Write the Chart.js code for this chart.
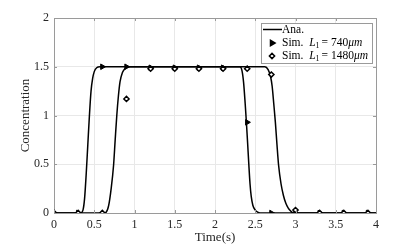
<!DOCTYPE html>
<html>
<head>
<meta charset="utf-8">
<script src="https://cdn.jsdelivr.net/npm/chart.js@4"></script>
<style>
  html, body { margin: 0; padding: 0; background: #fff; }
  #wrap { width: 415px; height: 247px; }
</style>
</head>
<body>
<div id="wrap"><canvas id="grafik"></canvas></div>
<script>
// analytical curves
const ana1T = [0, 0.33, 0.36, 0.38, 0.40, 0.42, 0.44, 0.46, 0.48, 0.50, 0.53, 0.57, 2.31, 2.335, 2.355, 2.375, 2.39, 2.405, 2.42, 2.435, 2.45, 2.47, 2.50, 2.53, 2.56, 4];
const ana1C = [0, 0, 0.03, 0.15, 0.4, 0.7, 1.0, 1.25, 1.38, 1.45, 1.49, 1.5, 1.5, 1.46, 1.34, 1.12, 0.93, 0.72, 0.5, 0.3, 0.17, 0.08, 0.03, 0.008, 0, 0];
const ana2T = [0, 0.62, 0.65, 0.68, 0.71, 0.74, 0.76, 0.78, 0.80, 0.82, 0.85, 0.88, 0.93, 2.62, 2.66, 2.69, 2.71, 2.73, 2.75, 2.77, 2.79, 2.82, 2.85, 2.88, 2.91, 2.94, 2.97, 4];
const ana2C = [0, 0, 0.01, 0.08, 0.25, 0.49, 0.75, 1.0, 1.2, 1.345, 1.44, 1.48, 1.5, 1.5, 1.47, 1.4, 1.3, 1.12, 0.93, 0.7, 0.49, 0.3, 0.18, 0.1, 0.05, 0.02, 0, 0];

// simulation samples
const simTime = [0, 0.3, 0.6, 0.9, 1.2, 1.5, 1.8, 2.1, 2.4, 2.7, 3.0, 3.3, 3.6, 3.9];
const sim740 = [0, 0, 1.5, 1.5, 1.49, 1.49, 1.49, 1.49, 0.93, 0, 0, 0, 0, 0];
const sim1480 = [0, 0, 0, 1.17, 1.48, 1.48, 1.48, 1.48, 1.48, 1.42, 0.03, 0, 0, 0];

const xTicks = [0, 0.5, 1, 1.5, 2, 2.5, 3, 3.5, 4];
const yTicks = [0, 0.5, 1, 1.5, 2];

const serif = "'Liberation Serif', 'DejaVu Serif', serif";

function pts(xs, ys) {
    return xs.map((x, i) => ({ x: x, y: ys[i] }));
}

// box around plot + inward ticks, like the original
const boxPlugin = {
    id: 'box',
    afterDraw(chart) {
        const c = chart.ctx, a = chart.chartArea;
        const sx = chart.scales.x, sy = chart.scales.y;
        c.save();
        c.strokeStyle = '#9a9a9a';
        c.lineWidth = 1;
        c.beginPath();
        c.moveTo(a.left, a.top + 0.5);
        c.lineTo(a.right + 0.5, a.top + 0.5);
        c.lineTo(a.right + 0.5, a.bottom);
        xTicks.forEach(v => {
            const px = Math.round(sx.getPixelForValue(v)) + 0.5;
            c.moveTo(px, a.bottom); c.lineTo(px, a.bottom - 3);
            c.moveTo(px, a.top); c.lineTo(px, a.top + 3);
        });
        yTicks.forEach(v => {
            const py = Math.round(sy.getPixelForValue(v)) + 0.5;
            c.moveTo(a.left, py); c.lineTo(a.left + 3, py);
            c.moveTo(a.right, py); c.lineTo(a.right - 3, py);
        });
        c.stroke();
        c.restore();
    }
};

// legend drawn inside the axes (top right)
const legendPlugin = {
    id: 'innerLegend',
    afterDraw(chart) {
        const c = chart.ctx;
        const x0 = 261, y0 = 23, w = 111, h = 40;
        c.save();
        c.fillStyle = '#fff';
        c.fillRect(x0, y0, w, h);
        c.strokeStyle = '#9a9a9a';
        c.lineWidth = 1;
        c.strokeRect(x0 + 0.5, y0 + 0.5, w, h);

        // line sample
        c.strokeStyle = '#000';
        c.lineWidth = 1.5;
        c.beginPath();
        c.moveTo(263, 29.5); c.lineTo(282, 29.5);
        c.stroke();

        // marker samples
        c.fillStyle = '#000';
        Chart.helpers.drawPoint(c, { pointStyle: 'triangle', radius: 3, rotation: 90, borderWidth: 1 }, 272, 43);
        c.fillStyle = '#fff';
        Chart.helpers.drawPoint(c, { pointStyle: 'rectRot', radius: 2.6, rotation: 0, borderWidth: 1.5 }, 272, 56);

        c.fillStyle = '#000';
        c.textBaseline = 'middle';
        const rm = "11.5px " + serif, it = "italic 11.5px " + serif, sm = "8px " + serif;
        c.font = rm;
        c.fillText('Ana.', 282, 29.5);

        function simLine(y, num) {
            let x = 282;
            c.font = rm; c.fillText('Sim. ', x, y); x += c.measureText('Sim.  ').width;
            c.font = it; c.fillText('L', x, y); x += c.measureText('L').width;
            c.font = sm; c.fillText('1', x, y + 2.5); x += c.measureText('1').width + 2;
            c.font = rm; c.fillText('= ' + num, x, y); x += c.measureText('= ' + num).width;
            c.font = it; c.fillText('\u03bcm', x, y);
        }
        simLine(43, '740');
        simLine(56, '1480');
        c.restore();
    }
};

document.addEventListener('DOMContentLoaded', function() {
    const ctx = document.getElementById('grafik');
    Chart.defaults.font.family = serif;
    Chart.defaults.color = '#262626';

    new Chart(ctx, {
        type: 'line',
        data: {
            datasets: [
                {
                    label: 'Ana.',
                    data: pts(ana1T, ana1C),
                    borderColor: '#000',
                    borderWidth: 1.5,
                    pointRadius: 0,
                    cubicInterpolationMode: 'monotone',
                    order: 3
                },
                {
                    label: 'Ana.',
                    data: pts(ana2T, ana2C),
                    borderColor: '#000',
                    borderWidth: 1.5,
                    pointRadius: 0,
                    cubicInterpolationMode: 'monotone',
                    order: 3
                },
                {
                    label: 'Sim. L1 = 740\u03bcm',
                    data: pts(simTime, sim740),
                    showLine: false,
                    pointStyle: 'triangle',
                    pointRotation: 90,
                    pointRadius: 3.2,
                    pointBackgroundColor: '#000',
                    pointBorderColor: '#000',
                    pointBorderWidth: 1,
                    order: 2
                },
                {
                    label: 'Sim. L1 = 1480\u03bcm',
                    data: pts(simTime, sim1480),
                    showLine: false,
                    pointStyle: 'rectRot',
                    pointRadius: 2.6,
                    pointBackgroundColor: '#fff',
                    pointBorderColor: '#000',
                    pointBorderWidth: 1.5,
                    order: 1
                }
            ]
        },
        options: {
            responsive: true,
            maintainAspectRatio: false,
            animation: false,
            layout: { padding: { top: 18, right: 39, left: 0, bottom: 0 } },
            plugins: {
                legend: { display: false },
                tooltip: { enabled: false }
            },
            scales: {
                x: {
                    type: 'linear',
                    min: 0, max: 4,
                    afterBuildTicks: s => { s.ticks = xTicks.map(v => ({ value: v })); },
                    afterFit: s => { s.height = 34; },
                    grid: { color: '#e8e8e8', drawTicks: false },
                    border: { color: '#9a9a9a' },
                    ticks: { padding: 5, font: { size: 12 }, maxRotation: 0, callback: v => String(v) },
                    title: { display: true, text: 'Time(s)', font: { size: 13 }, padding: { top: 0, bottom: 2 } }
                },
                y: {
                    type: 'linear',
                    min: 0, max: 2,
                    afterBuildTicks: s => { s.ticks = yTicks.map(v => ({ value: v })); },
                    afterFit: s => { s.width = 54; },
                    grid: { color: '#e8e8e8', drawTicks: false },
                    border: { color: '#9a9a9a' },
                    ticks: { padding: 5, font: { size: 12 }, callback: v => String(v) },
                    title: { display: true, text: 'Concentration', font: { size: 13 }, padding: { top: 18, bottom: 0 } }
                }
            }
        },
        plugins: [boxPlugin, legendPlugin]
    });
});
</script>
</body>
</html>
